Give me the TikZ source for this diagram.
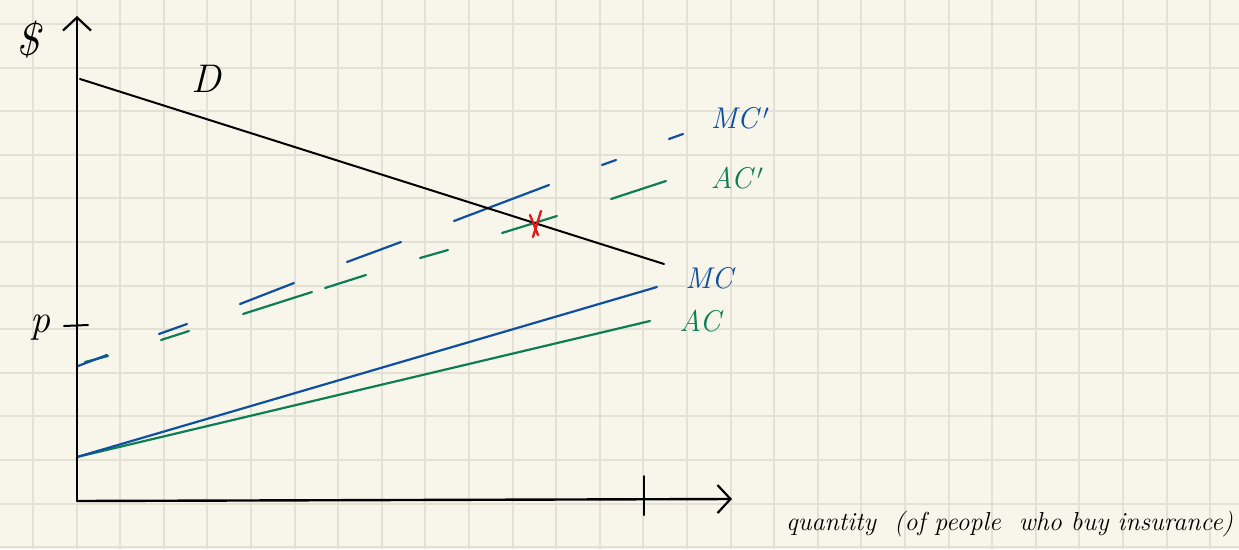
\documentclass[tikz,border=0pt]{standalone}
\usetikzlibrary{arrows.meta}
\definecolor{paper}{HTML}{F8F6EA}
\definecolor{gridc}{HTML}{E3E1D5}
\definecolor{mcblue}{HTML}{0F4FA0}
\definecolor{acgreen}{HTML}{0E7D55}
\definecolor{xred}{HTML}{E01A1E}
\begin{document}
\begin{tikzpicture}[x=1pt,y=-1pt,
  gridline/.style={gridc,line width=2pt},
  axis/.style={line width=2.4pt,black,line cap=round},
  arrowaxis/.style={axis,-{Straight Barb[length=13pt,width=28pt,line width=2.2pt]}},
  demand/.style={line width=2pt,black,line cap=round},
  mcline/.style={line width=2.2pt,mcblue,line cap=round},
  acline/.style={line width=2.2pt,acgreen,line cap=round},
  cross/.style={line width=2.4pt,xred,line cap=round},
  lbl/.style={inner sep=0pt,font=\fontsize{30}{30}\selectfont\itshape},
  bluelbl/.style={lbl,text=mcblue},
  greenlbl/.style={lbl,text=acgreen}]
\fill[paper] (0,0) rectangle (1239,549);
\useasboundingbox (0,0) rectangle (1239,549);
\foreach \i in {0,...,27} \draw[gridline] ({33+43.6*\i},0) -- ({33+43.6*\i},549);
\foreach \j in {0,...,12} \draw[gridline] (0,{24+43.6*\j}) -- (1239,{24+43.6*\j});

% named points
\coordinate (ybot) at (77,500);
\coordinate (ytop) at (77,16);
\coordinate (xleft) at (77,501);
\coordinate (xright) at (732,499);
\coordinate (qtickA) at (644,476);
\coordinate (qtickB) at (644,515);
\coordinate (ptickA) at (64,326);
\coordinate (ptickB) at (88,325);
\coordinate (dA) at (80,79);
\coordinate (dB) at (664,264);
\coordinate (base) at (77,457);
\coordinate (mcEnd) at (657,287);
\coordinate (acEnd) at (650,321);

% AC' dashed (green)
\draw[acline] (85,362) -- (108,356);
\draw[acline] (161,340) -- (189,331);
\draw[acline] (243,314) -- (312,292);
\draw[acline] (325,288) -- (366,275);
\draw[acline] (420,258) -- (448,250);
\draw[acline] (502,233) -- (557,216);
\draw[acline] (611,199) -- (666,181);
% MC' dashed (blue)
\draw[mcline] (78,366) -- (107,355);
\draw[mcline] (159,334) -- (187,324);
\draw[mcline] (240,304) -- (294,283);
\draw[mcline] (347,262) -- (401,242);
\draw[mcline] (454,221) -- (549,185);
\draw[mcline] (602,165) -- (616,160);
\draw[mcline] (669,139) -- (683,134);

% MC and AC
\draw[acline] (base) -- (acEnd);
\draw[mcline] (base) -- (mcEnd);

% demand
\draw[demand] (dA) -- (dB);

% axes
\draw[arrowaxis] (ybot) -- (ytop);
\draw[arrowaxis] (xleft) -- (xright);
\draw[axis,line width=2pt] (qtickA) -- (qtickB);
\draw[axis,line width=2pt] (ptickA) -- (ptickB);

% red mark
\draw[cross] (541,211) -- (533,237);
\draw[cross] (530,215) -- (538,235);

% labels
\node[lbl,font=\fontsize{46}{46}\selectfont\itshape] (dollar) at (28,40) {\$};
\node[lbl,font=\fontsize{40}{40}\selectfont\itshape] (dlabel) at (206,79) {D};
\node[lbl,font=\fontsize{40}{40}\selectfont\itshape] (plabel) at (40,328) {p};
\node[bluelbl] (mcp) at (740,118) {MC\hspace{5pt}$'$};
\node[greenlbl] (acp) at (737,178) {AC\hspace{5pt}$'$};
\node[bluelbl] (mc) at (709,278) {MC};
\node[greenlbl] (ac) at (700,321) {AC};
\node[lbl,font=\fontsize{26}{26}\selectfont\itshape,anchor=base west] (qlabel) at (786,530) {quantity\ \ (of people\ \ who buy insurance)};
\end{tikzpicture}
\end{document}
